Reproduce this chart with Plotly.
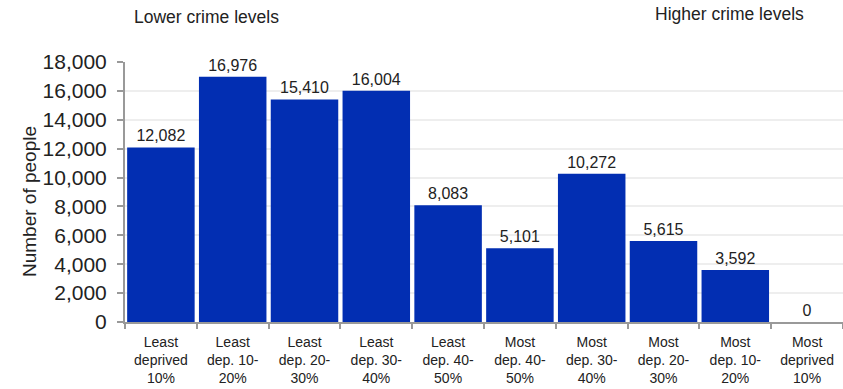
import plotly.graph_objects as go

categories = ["Least<br>deprived<br>10%", "Least<br>dep. 10-<br>20%", "Least<br>dep. 20-<br>30%",
              "Least<br>dep. 30-<br>40%", "Least<br>dep. 40-<br>50%", "Most<br>dep. 40-<br>50%",
              "Most<br>dep. 30-<br>40%", "Most<br>dep. 20-<br>30%", "Most<br>dep. 10-<br>20%",
              "Most<br>deprived<br>10%"]
values = [12082, 16976, 15410, 16004, 8083, 5101, 10272, 5615, 3592, 0]
value_labels = [f"{v:,}" for v in values]
y_ticks = [0, 2000, 4000, 6000, 8000, 10000, 12000, 14000, 16000, 18000]

FONT = "Liberation Sans, Arial, sans-serif"
W, H = 843, 389
L, T, B = 125, 62, 389 - 322
PH = H - T - B
PW = W - L

def py(page_y):
    return (H - B - page_y) / PH

def px(page_x):
    return (page_x - L) / PW

fig = go.Figure(go.Bar(
    x=categories, y=values,
    marker=dict(color="#022EB2", line=dict(width=0)),
    text=value_labels, textposition="outside",
    textfont=dict(size=16, color="#222", family=FONT),
    cliponaxis=False,
))

fig.update_layout(
    width=W, height=H,
    margin=dict(l=L, r=0, t=T, b=B),
    paper_bgcolor="white", plot_bgcolor="white",
    bargap=0.06,
    showlegend=False,
    font=dict(family=FONT, color="#222"),
    xaxis=dict(
        automargin=False,
        showline=True, linecolor="#999", linewidth=2,
        ticks="outside", tickson="boundaries", ticklen=5, tickcolor="#999", tickwidth=2,
        tickfont=dict(size=14, color="#222"),
        ticklabelstandoff=6,
        showgrid=False,
    ),
    yaxis=dict(
        automargin=False,
        range=[0, 18000], tickvals=y_ticks, tickformat=",",
        showline=True, linecolor="#999", linewidth=2,
        ticks="outside", ticklen=6, tickcolor="#999", tickwidth=2,
        tickfont=dict(size=21, color="#222"),
        ticklabelstandoff=6,
        showgrid=True, gridcolor="#EEEEEE", gridwidth=2,
        zeroline=False,
    ),
    annotations=[
        dict(text="Number of people", xref="paper", yref="paper", x=px(29), y=py(202),
             textangle=-90, showarrow=False, font=dict(size=19, color="#222"),
             xanchor="center", yanchor="middle"),
        dict(text="Lower crime levels", xref="paper", yref="paper", x=px(206), y=py(17),
             showarrow=False, font=dict(size=17.5, color="#222"), xanchor="center", yanchor="middle"),
        dict(text="Higher crime levels", xref="paper", yref="paper", x=px(729), y=py(14),
             showarrow=False, font=dict(size=17.5, color="#222"), xanchor="center", yanchor="middle"),
    ],
)

fig.write_html("out.html", config={"displayModeBar": False},
               post_script="document.body.style.margin='0';")
